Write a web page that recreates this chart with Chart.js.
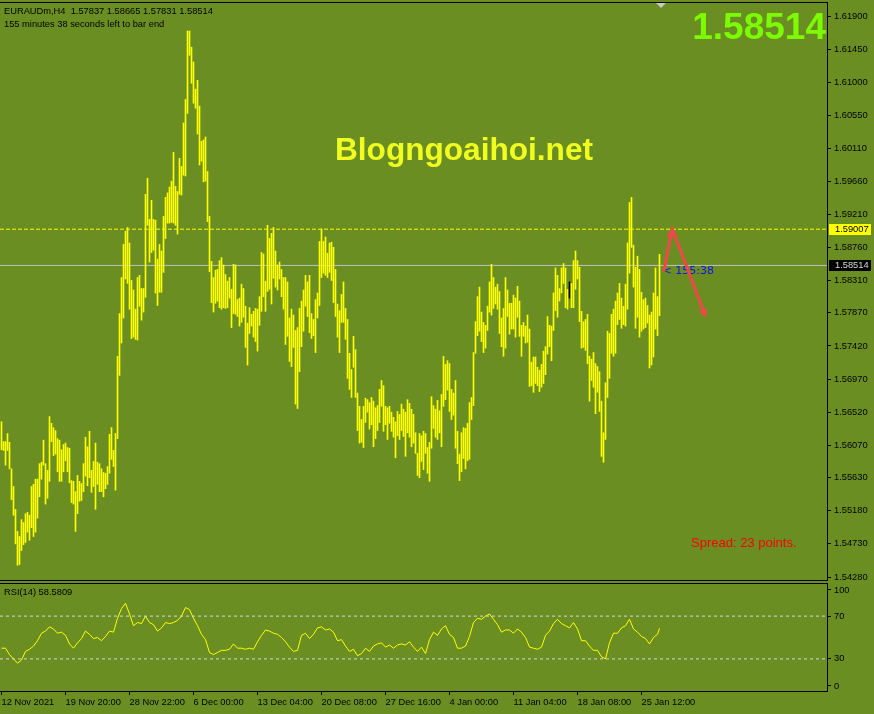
<!DOCTYPE html>
<html><head><meta charset="utf-8">
<script src="https://cdn.jsdelivr.net/npm/chart.js@4.4.1/dist/chart.umd.min.js"></script>
<style>
html,body{margin:0;padding:0;background:#6B8E23;}
#wrap{position:relative;width:874px;height:714px;background:#6B8E23;overflow:hidden;}
canvas{position:absolute;left:0;}
#c1{top:0;} #c2{top:580px;}
</style></head><body>
<div id="wrap"><canvas id="c1" width="874" height="582"></canvas><canvas id="c2" width="874" height="134"></canvas></div>
<script>
// ---------- DATA ----------
const symbol = 'EURAUDm,H4';
const lastOHLC = [1.57837, 1.58665, 1.57831, 1.58514];
const countdownText = '155 minutes 38 seconds left to bar end';
const countdownShort = '< 155:38';
const spreadText = 'Spread: 23 points.';
const watermark = 'Blogngoaihoi.net';
const bidPrice = 1.58514;
const levelPrice = 1.59007;

const highs = [
1.5639,1.5612,1.5612,1.5623,1.5611,1.5575,1.5551,1.5520,1.5490,1.5483,
1.5506,1.5502,1.5514,1.5516,1.5512,1.5551,1.5554,1.5561,1.5561,1.5582,
1.5584,1.5614,1.5582,1.5573,1.5646,1.5637,1.5631,1.5627,1.5616,1.5614,
1.5601,1.5608,1.5610,1.5604,1.5603,1.5559,1.5558,1.5544,1.5566,1.5558,
1.5555,1.5582,1.5618,1.5605,1.5626,1.5573,1.5585,1.5610,1.5584,1.5582,
1.5575,1.5570,1.5569,1.5578,1.5622,1.5631,1.5600,1.5623,1.5728,1.5786,
1.5835,1.5880,1.5898,1.5903,1.5882,1.5831,1.5818,1.5792,1.5835,1.5838,
1.5820,1.5820,1.5948,1.5970,1.5914,1.5940,1.5914,1.5913,1.5860,1.5880,
1.5871,1.5918,1.5944,1.5950,1.5958,1.5966,1.6005,1.5959,1.5952,1.5997,
1.5986,1.6045,1.6077,1.6170,1.6170,1.6148,1.6128,1.6091,1.6103,1.6068,
1.6020,1.6022,1.6026,1.5979,1.5918,1.5857,1.5835,1.5845,1.5846,1.5858,
1.5862,1.5852,1.5839,1.5830,1.5835,1.5819,1.5853,1.5852,1.5805,1.5807,
1.5826,1.5820,1.5796,1.5773,1.5794,1.5785,1.5789,1.5793,1.5792,1.5809,
1.5869,1.5867,1.5830,1.5906,1.5888,1.5895,1.5903,1.5871,1.5852,1.5856,
1.5846,1.5835,1.5835,1.5829,1.5780,1.5792,1.5784,1.5763,1.5767,1.5793,
1.5803,1.5818,1.5838,1.5829,1.5838,1.5786,1.5778,1.5805,1.5814,1.5884,
1.5901,1.5884,1.5890,1.5868,1.5882,1.5883,1.5876,1.5846,1.5799,1.5790,
1.5812,1.5829,1.5793,1.5778,1.5732,1.5710,1.5755,1.5737,1.5678,1.5660,
1.5642,1.5660,1.5671,1.5669,1.5665,1.5672,1.5667,1.5658,1.5661,1.5683,
1.5695,1.5688,1.5660,1.5658,1.5660,1.5652,1.5645,1.5639,1.5653,1.5649,
1.5663,1.5656,1.5652,1.5669,1.5664,1.5656,1.5649,1.5624,1.5596,1.5623,
1.5620,1.5626,1.5623,1.5604,1.5611,1.5673,1.5661,1.5656,1.5668,1.5654,
1.5676,1.5728,1.5717,1.5722,1.5718,1.5683,1.5678,1.5695,1.5626,1.5595,
1.5624,1.5631,1.5630,1.5637,1.5665,1.5672,1.5733,1.5775,1.5809,1.5822,
1.5788,1.5774,1.5770,1.5796,1.5829,1.5853,1.5835,1.5822,1.5826,1.5816,
1.5780,1.5793,1.5835,1.5818,1.5800,1.5800,1.5811,1.5807,1.5823,1.5803,
1.5770,1.5774,1.5769,1.5784,1.5765,1.5720,1.5727,1.5727,1.5713,1.5709,
1.5717,1.5735,1.5741,1.5782,1.5770,1.5769,1.5814,1.5848,1.5838,1.5820,
1.5848,1.5854,1.5848,1.5819,1.5829,1.5827,1.5858,1.5871,1.5858,1.5849,
1.5789,1.5775,1.5778,1.5785,1.5728,1.5724,1.5733,1.5718,1.5714,1.5707,
1.5667,1.5624,1.5692,1.5762,1.5759,1.5785,1.5792,1.5803,1.5814,1.5827,
1.5807,1.5796,1.5826,1.5882,1.5937,1.5944,1.5879,1.5849,1.5864,1.5846,
1.5815,1.5805,1.5807,1.5797,1.5784,1.5788,1.5814,1.5848,1.5809,1.58665];

const lows = [
1.5601,1.5600,1.5580,1.5600,1.5575,1.5533,1.5512,1.5473,1.5444,1.5445,
1.5464,1.5472,1.5475,1.5489,1.5478,1.5495,1.5483,1.5489,1.5508,1.5537,
1.5561,1.5580,1.5527,1.5535,1.5558,1.5612,1.5593,1.5595,1.5571,1.5558,
1.5558,1.5571,1.5586,1.5571,1.5556,1.5529,1.5527,1.5490,1.5514,1.5531,
1.5532,1.5544,1.5565,1.5552,1.5563,1.5543,1.5551,1.5520,1.5554,1.5544,
1.5544,1.5537,1.5548,1.5554,1.5569,1.5588,1.5578,1.5546,1.5616,1.5702,
1.5746,1.5780,1.5833,1.5827,1.5792,1.5752,1.5754,1.5751,1.5750,1.5796,
1.5777,1.5788,1.5808,1.5906,1.5856,1.5869,1.5872,1.5814,1.5797,1.5815,
1.5815,1.5842,1.5888,1.5909,1.5909,1.5910,1.5909,1.5906,1.5894,1.5948,
1.5947,1.5974,1.5973,1.6058,1.6137,1.6099,1.6072,1.6065,1.6030,1.5988,
1.5993,1.5965,1.5966,1.5911,1.5843,1.5801,1.5788,1.5800,1.5803,1.5794,
1.5792,1.5794,1.5793,1.5794,1.5807,1.5767,1.5786,1.5785,1.5782,1.5769,
1.5774,1.5781,1.5740,1.5716,1.5759,1.5769,1.5754,1.5748,1.5735,1.5770,
1.5789,1.5809,1.5789,1.5816,1.5819,1.5799,1.5834,1.5822,1.5818,1.5833,
1.5809,1.5792,1.5744,1.5755,1.5721,1.5714,1.5740,1.5663,1.5657,1.5707,
1.5741,1.5762,1.5796,1.5782,1.5760,1.5752,1.5756,1.5733,1.5780,1.5797,
1.5835,1.5841,1.5838,1.5835,1.5842,1.5831,1.5801,1.5782,1.5754,1.5733,
1.5774,1.5774,1.5751,1.5698,1.5683,1.5672,1.5713,1.5672,1.5627,1.5610,
1.5611,1.5604,1.5638,1.5652,1.5629,1.5635,1.5605,1.5616,1.5627,1.5638,
1.5660,1.5626,1.5635,1.5615,1.5637,1.5626,1.5618,1.5590,1.5620,1.5615,
1.5627,1.5619,1.5592,1.5624,1.5618,1.5605,1.5610,1.5596,1.5566,1.5563,
1.5585,1.5574,1.5596,1.5569,1.5558,1.5603,1.5630,1.5618,1.5615,1.5624,
1.5605,1.5660,1.5669,1.5682,1.5653,1.5642,1.5648,1.5603,1.5582,1.5559,
1.5571,1.5589,1.5575,1.5586,1.5588,1.5642,1.5661,1.5732,1.5756,1.5762,
1.5748,1.5733,1.5739,1.5763,1.5788,1.5784,1.5793,1.5799,1.5792,1.5759,
1.5741,1.5728,1.5739,1.5782,1.5758,1.5765,1.5765,1.5754,1.5781,1.5755,
1.5728,1.5755,1.5746,1.5747,1.5687,1.5688,1.5679,1.5691,1.5688,1.5680,
1.5686,1.5691,1.5703,1.5731,1.5741,1.5722,1.5763,1.5790,1.5781,1.5803,
1.5814,1.5827,1.5794,1.5792,1.5807,1.5794,1.5794,1.5819,1.5833,1.5775,
1.5739,1.5740,1.5736,1.5718,1.5667,1.5695,1.5686,1.5650,1.5679,1.5653,
1.5592,1.5584,1.5615,1.5672,1.5698,1.5732,1.5728,1.5732,1.5771,1.5778,
1.5766,1.5771,1.5769,1.5792,1.5841,1.5876,1.5822,1.5766,1.5781,1.5754,
1.5762,1.5765,1.5767,1.5773,1.5712,1.5716,1.5727,1.5765,1.5756,1.57831];

const darkBarIndex = 284;

const priceTicks = [1.61900,1.61450,1.61000,1.60550,1.60110,1.59660,1.59210,1.58760,1.58310,
                    1.57870,1.57420,1.56970,1.56520,1.56070,1.55630,1.55180,1.54730,1.54280];

const timeTickBars = [0,32,64,96,128,160,192,224,256,288,320];
const timeLabels = ['12 Nov 2021','19 Nov 20:00','28 Nov 22:00','6 Dec 00:00','13 Dec 04:00',
  '20 Dec 08:00','27 Dec 16:00','4 Jan 00:00','11 Jan 04:00','18 Jan 08:00','25 Jan 12:00'];

// RSI(14), read every second bar, last value on the current bar
const rsiValues = [
40,40,34,30,26,29,37,39,42,47,
54,56,60,58,54,55,52,44,40,45,
49,56,53,49,50,47,51,56,55,68,
77,82,72,61,64,63,70,64,62,56,
59,64,63,64,66,70,78,76,68,61,
53,48,36,34,36,38,38,39,44,40,
40,39,40,39,46,52,57,56,54,53,
50,46,41,37,38,52,54,49,53,59,
60,57,58,55,47,48,42,37,39,33,
35,40,37,42,44,45,41,43,40,43,
44,43,46,41,37,41,35,48,55,52,
58,61,53,50,40,40,42,51,64,68,
67,70,72,67,62,55,57,57,54,58,
55,50,41,40,39,41,52,56,63,67,
63,61,59,64,58,47,47,42,38,38,
32,30,45,54,54,59,61,67,58,55,
51,49,44,50,53,58.5809];
const rsiLevels = [70, 30];
const rsiTicks = [100, 70, 30, 0];

// drawn objects (bar index, price)
const arrows = [[331.3, 1.5845, 335.3, 1.5902], [335.3, 1.5902, 352.3, 1.5780]];

// ---------- RENDER ----------
const FONT_FAMILY = '"Liberation Sans", Arial, sans-serif';
const SMALL = {family: FONT_FAMILY, size: 9.3};
const xMin = -0.75, xMax = 412.75;
const yMax = 1.6208075, yMin = 1.5423926;
const hLine = (v, color, dash) => ({type:'line', data:[{x:xMin,y:v},{x:xMax,y:v}], borderColor:color,
  borderWidth:1, borderDash:dash||[], pointRadius:0, tension:0});
const noPad = s => { s.paddingTop = 0; s.paddingBottom = 0; s.paddingLeft = 0; s.paddingRight = 0; };

function arrow(ctx, x0, y0, x1, y1) {
  const ang = Math.atan2(y1 - y0, x1 - x0), L = 9, W = 4;
  const bx = x1 - L * Math.cos(ang), by = y1 - L * Math.sin(ang);
  ctx.beginPath(); ctx.moveTo(x0, y0); ctx.lineTo(bx, by); ctx.stroke();
  ctx.beginPath(); ctx.moveTo(x1, y1);
  ctx.lineTo(bx + W * Math.sin(ang), by - W * Math.cos(ang));
  ctx.lineTo(bx - W * Math.sin(ang), by + W * Math.cos(ang));
  ctx.closePath(); ctx.fill();
}

const mainOverlay = {
  id: 'mainOverlay',
  afterDraw(chart) {
    const {ctx, chartArea: a, scales: {x, y}} = chart;
    ctx.save();
    ctx.strokeStyle = '#000'; ctx.lineWidth = 1;
    ctx.beginPath(); ctx.moveTo(0, a.top - 0.5); ctx.lineTo(a.right + 1, a.top - 0.5); ctx.stroke();
    ctx.beginPath(); ctx.moveTo(0, a.bottom + 0.5); ctx.lineTo(a.right + 1, a.bottom + 0.5); ctx.stroke();

    // header
    ctx.fillStyle = '#000'; ctx.font = '9.3px ' + FONT_FAMILY;
    ctx.textAlign = 'left'; ctx.textBaseline = 'middle';
    ctx.fillText(symbol + '  ' + lastOHLC.map(v => v.toFixed(5)).join(' '), 4, 11);
    ctx.fillText(countdownText, 4, 24);

    // big price
    ctx.fillStyle = '#7CFC00'; ctx.font = 'bold 37px ' + FONT_FAMILY;
    ctx.textAlign = 'right'; ctx.textBaseline = 'alphabetic';
    ctx.fillText(bidPrice.toFixed(5), 826, 39);

    // watermark
    ctx.fillStyle = '#F0FF20'; ctx.font = 'bold 31.6px ' + FONT_FAMILY;
    ctx.textAlign = 'left';
    ctx.fillText(watermark, 335, 160);

    // spread
    ctx.fillStyle = '#FF0000'; ctx.font = '13px ' + FONT_FAMILY;
    ctx.fillText(spreadText, 691, 547);

    // shift marker
    ctx.fillStyle = '#C8C8C8';
    ctx.beginPath(); ctx.moveTo(656, a.top); ctx.lineTo(666, a.top); ctx.lineTo(661, a.top + 5); ctx.closePath(); ctx.fill();

    // countdown
    const bidY = y.getPixelForValue(bidPrice);
    ctx.fillStyle = '#1010F0'; ctx.font = '11px "DejaVu Sans", sans-serif';
    ctx.textBaseline = 'top';
    ctx.fillText(countdownShort, x.getPixelForValue(highs.length - 1) + 3, bidY);

    // arrows
    ctx.strokeStyle = '#F04848'; ctx.fillStyle = '#F04848'; ctx.lineWidth = 3; ctx.lineCap = 'round';
    arrows.forEach(r => arrow(ctx, x.getPixelForValue(r[0]), y.getPixelForValue(r[1]),
                                   x.getPixelForValue(r[2]), y.getPixelForValue(r[3])));

    // axis price boxes
    ctx.font = '9.3px ' + FONT_FAMILY; ctx.textBaseline = 'middle'; ctx.textAlign = 'left';
    const box = (v, bg, fg) => {
      const py = Math.round(y.getPixelForValue(v));
      ctx.fillStyle = bg; ctx.fillRect(a.right + 2, py - 5, 42, 11);
      ctx.fillStyle = fg; ctx.fillText(v.toFixed(5), a.right + 8, py + 0.5);
    };
    box(levelPrice, '#FFFF00', '#000');
    box(bidPrice, '#000', '#D8D8D8');
    ctx.restore();
  }
};

new Chart(document.getElementById('c1'), {
  type: 'bar',
  data: {datasets: [
    Object.assign(hLine(levelPrice, '#FFFF00', [4, 2]), {order: 3}),
    Object.assign(hLine(bidPrice, '#C0C0C0'), {order: 2}),
    {type: 'bar', order: 1, data: highs.map((h, i) => ({x: i, y: [lows[i], h]})),
     backgroundColor: highs.map((h, i) => i === darkBarIndex ? '#000000' : '#FFFF00'),
     barThickness: 1, borderWidth: 0, grouped: false}
  ]},
  options: {
    responsive: false, animation: false, devicePixelRatio: 1,
    layout: {autoPadding: false, padding: {top: 3, left: 0, right: 0, bottom: 2}},
    plugins: {legend: {display: false}, tooltip: {enabled: false}},
    scales: {
      x: {type: 'linear', min: xMin, max: xMax, offset: false, display: false},
      y: {type: 'linear', position: 'right', min: yMin, max: yMax,
          afterFit: s => { s.width = 47; noPad(s); },
          afterBuildTicks: s => { s.ticks = priceTicks.map(v => ({value: v})); },
          ticks: {font: SMALL, color: '#000', padding: 3, autoSkip: false, callback: v => v.toFixed(5)},
          grid: {drawOnChartArea: false, drawTicks: true, tickLength: 4, color: '#000'},
          border: {display: true, color: '#000', width: 1}}
    }
  },
  plugins: [mainOverlay]
});

const rsiOverlay = {
  id: 'rsiOverlay',
  afterDraw(chart) {
    const {ctx, chartArea: a} = chart;
    ctx.save();
    ctx.strokeStyle = '#000'; ctx.lineWidth = 1;
    ctx.beginPath(); ctx.moveTo(0, a.top - 0.5); ctx.lineTo(a.right + 1, a.top - 0.5); ctx.stroke();
    ctx.fillStyle = '#000'; ctx.font = '9.3px ' + FONT_FAMILY;
    ctx.textAlign = 'left'; ctx.textBaseline = 'middle';
    ctx.fillText('RSI(14) ' + rsiValues[rsiValues.length - 1].toFixed(4), 4, 12);
    ctx.restore();
  }
};

// label positions for the first/last RSI ticks are nudged inside the panel as in the terminal
const rsiTickPos = {100: 94.4, 70: 70, 30: 30, 0: 4.7};

new Chart(document.getElementById('c2'), {
  type: 'line',
  data: {datasets: [
    ...rsiLevels.map(v => hLine(v, '#D8D8D8', [3, 3])),
    {data: rsiValues.map((v, k) => ({x: Math.min(2 * k, highs.length - 1), y: v})),
     borderColor: '#FFFF00', borderWidth: 1, pointRadius: 0, tension: 0}
  ]},
  options: {
    responsive: false, animation: false, devicePixelRatio: 1,
    layout: {autoPadding: false, padding: {top: 4, left: 0, right: 0, bottom: 0}},
    plugins: {legend: {display: false}, tooltip: {enabled: false}},
    scales: {
      x: {type: 'linear', min: xMin, max: xMax, offset: false,
          afterFit: s => { s.height = 23; noPad(s); },
          afterBuildTicks: s => { s.ticks = timeTickBars.map(v => ({value: v})); },
          ticks: {font: SMALL, color: '#000', align: 'start', padding: 2, maxRotation: 0, autoSkip: false,
                  callback: v => timeLabels[timeTickBars.indexOf(v)]},
          grid: {drawOnChartArea: false, drawTicks: true, tickLength: 4, color: '#000'},
          border: {display: true, color: '#000', width: 1}},
      y: {type: 'linear', position: 'right', min: 0, max: 100,
          afterFit: s => { s.width = 47; noPad(s); },
          afterBuildTicks: s => { s.ticks = rsiTicks.map(v => ({value: rsiTickPos[v]})); },
          ticks: {font: SMALL, color: '#000', padding: 3, autoSkip: false,
                  callback: (v, i) => String(rsiTicks[i])},
          grid: {drawOnChartArea: false, drawTicks: true, tickLength: 4, color: '#000'},
          border: {display: true, color: '#000', width: 1}}
    }
  },
  plugins: [rsiOverlay]
});
</script>
</body></html>
